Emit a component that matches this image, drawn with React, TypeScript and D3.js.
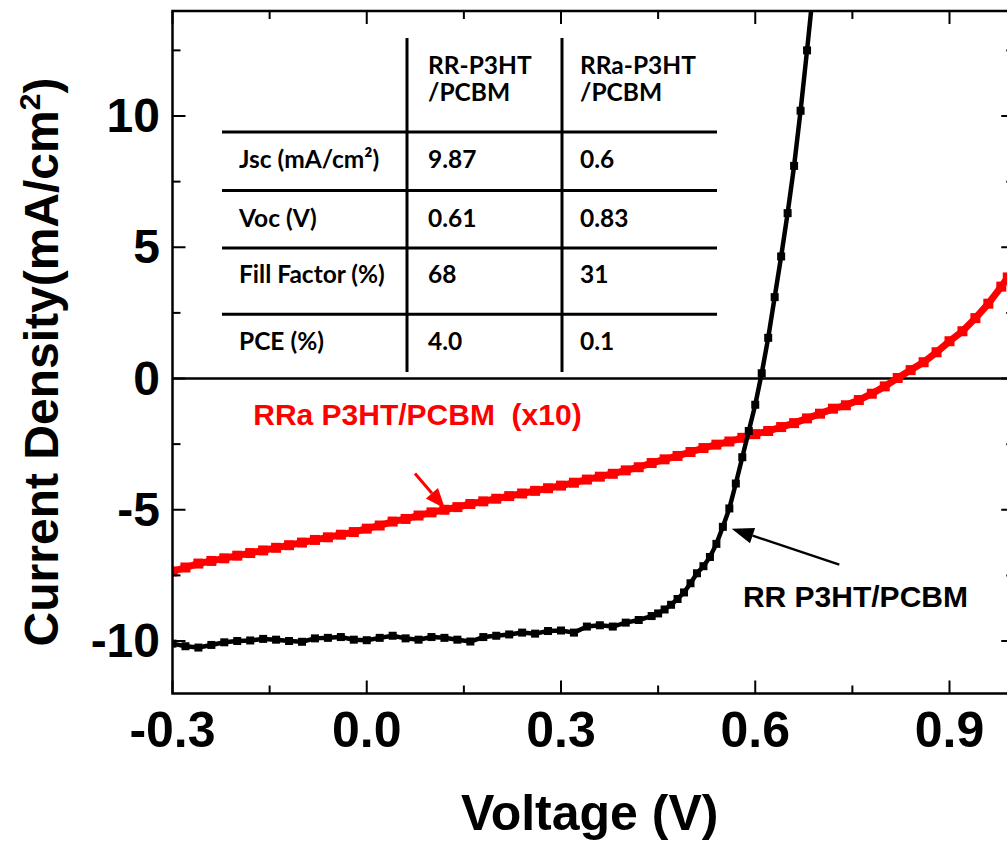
import * as d3 from "d3";

// J-V curves (RRa curve is multiplied by 10, as in the label)
const voltsRR = [
  -0.3, -0.28, -0.26, -0.24, -0.22, -0.2, -0.18, -0.16, -0.14, -0.12, -0.1, -0.08, -0.06, -0.04, -0.02,
  0.0, 0.02, 0.04, 0.06, 0.08, 0.1, 0.12, 0.14, 0.16, 0.18, 0.2, 0.22, 0.24, 0.26, 0.28, 0.3, 0.32,
  0.34, 0.36, 0.38, 0.4, 0.42, 0.44, 0.45, 0.46, 0.47, 0.48, 0.49, 0.5, 0.51, 0.52, 0.53, 0.54, 0.55,
  0.56, 0.57, 0.58, 0.59, 0.6, 0.61, 0.62, 0.63, 0.64, 0.65, 0.66, 0.67, 0.68, 0.69,
];
const currentRR = [
  -10.1, -10.2, -10.25, -10.15, -10.05, -10.0, -9.98, -9.92, -9.95, -10.0, -10.03, -9.9, -9.88, -9.85, -9.95,
  -9.97, -9.88, -9.8, -9.9, -9.95, -9.85, -9.88, -9.95, -10.02, -9.85, -9.8, -9.75, -9.68, -9.72, -9.62, -9.6, -9.68,
  -9.45, -9.4, -9.45, -9.3, -9.2, -9.05, -8.95, -8.8, -8.62, -8.4, -8.15, -7.8, -7.42, -7.15, -6.8, -6.3, -5.65,
  -4.95, -4.0, -3.0, -2.0, -1.0, 0.2, 1.55, 3.1, 4.65, 6.3, 8.1, 10.2, 12.5, 14.9,
];

const voltsRRa = [
  -0.3, -0.28, -0.26, -0.24, -0.22, -0.2, -0.18, -0.16, -0.14, -0.12, -0.1, -0.08, -0.06, -0.04, -0.02,
  0.0, 0.02, 0.04, 0.06, 0.08, 0.1, 0.12, 0.14, 0.16, 0.18, 0.2, 0.22, 0.24, 0.26, 0.28, 0.3, 0.32,
  0.34, 0.36, 0.38, 0.4, 0.42, 0.44, 0.46, 0.48, 0.5, 0.52, 0.54, 0.56, 0.58, 0.6, 0.62, 0.64, 0.66,
  0.68, 0.7, 0.72, 0.74, 0.76, 0.78, 0.8, 0.82, 0.84, 0.86, 0.88, 0.9, 0.92, 0.94, 0.96, 0.98, 0.99,
];
const currentRRa = [
  -7.35, -7.2, -7.05, -6.95, -6.85, -6.75, -6.65, -6.55, -6.45, -6.35, -6.25, -6.15, -6.05, -5.95, -5.85,
  -5.72, -5.6, -5.45, -5.35, -5.22, -5.1, -5.0, -4.9, -4.78, -4.68, -4.58, -4.48, -4.38, -4.28, -4.18, -4.08, -3.97,
  -3.85, -3.74, -3.63, -3.5, -3.38, -3.22, -3.08, -2.95, -2.8, -2.65, -2.52, -2.4, -2.26, -2.12, -2.0, -1.85, -1.7,
  -1.52, -1.34, -1.15, -1.02, -0.82, -0.58, -0.3, 0.02, 0.32, 0.62, 1.0, 1.42, 1.8, 2.3, 2.85, 3.5, 3.85,
];

const xMajor = [-0.3, 0.0, 0.3, 0.6, 0.9];
const xMinor = [-0.15, 0.15, 0.45, 0.75];
const yMajor = [-10, -5, 0, 5, 10];
const yMinor = [-7.5, -2.5, 2.5, 7.5, 12.5];

// inset table
const headRR = ["RR-P3HT", "/PCBM"];
const headRRa = ["RRa-P3HT", "/PCBM"];
const rowLabels = ["Jsc (mA/cm\u00B2)", "Voc (V)", "Fill Factor (%)", "PCE (%)"];
const valuesRR = ["9.87", "0.61", "68", "4.0"];
const valuesRRa = ["0.6", "0.83", "31", "0.1"];

const W = 1007;
const H = 844;
const arial = "'Liberation Sans', Arial, sans-serif";
const calibri = "Lato, 'Open Sans', sans-serif";

const x = d3.scaleLinear().domain([-0.3, 1.0]).range([172.5, 1014.25]);
const y = d3.scaleLinear().domain([-12, 14]).range([693.5, 11]);

function arrow(x1: number, y1: number, x2: number, y2: number, len: number, half: number) {
  const a = Math.atan2(y2 - y1, x2 - x1);
  const bx = x2 - len * Math.cos(a);
  const by = y2 - len * Math.sin(a);
  const px = -Math.sin(a) * half;
  const py = Math.cos(a) * half;
  return {
    shaft: { x1, y1, x2: bx, y2: by },
    head: `M${x2},${y2}L${bx + px},${by + py}L${bx - px},${by - py}Z`,
  };
}

const Series = ({ xs, ys, color, size, width }: any) => {
  const pts: [number, number][] = xs.map((v: number, i: number) => [x(v), y(ys[i])]);
  const line = d3.line();
  return (
    <g clipPath="url(#plotclip)">
      <path d={line(pts) || ""} fill="none" stroke={color} strokeWidth={width} strokeLinejoin="round" />
      {pts.map((p, i) => (
        <rect key={i} x={p[0] - size / 2} y={p[1] - size / 2} width={size} height={size} fill={color} />
      ))}
    </g>
  );
};

const App = () => {
  const x0 = x(-0.3), x1 = x(1.0), y0 = y(-12), y1 = y(14);
  const redArrow = arrow(x(0.0745), y(-3.62), x(0.1208), y(-4.95), 20, 8);
  const blackArrow = arrow(x(0.7298), y(-7.09), x(0.5636), y(-5.72), 22, 8);

  const hLines = [132, 190.5, 248, 314.3];
  const rowBase = [168, 227, 283, 350];

  return (
    <svg width={W} height={H} style={{ position: "absolute", left: 0, top: 0, background: "#fff" }}>
      <defs>
        <clipPath id="plotclip">
          <rect x={x0} y={y1} width={x1 - x0} height={y0 - y1} />
        </clipPath>
      </defs>

      {/* zero line */}
      <line x1={x0} x2={x1} y1={y(0)} y2={y(0)} stroke="#000" strokeWidth={2.5} />

      {/* table */}
      <g stroke="#000" strokeWidth={3}>
        {hLines.map((h, i) => (
          <line key={i} x1={222} x2={717} y1={h} y2={h} />
        ))}
        <line x1={407} x2={407} y1={38} y2={372} />
        <line x1={562} x2={562} y1={38} y2={372} />
      </g>
      <g fontFamily={calibri} fontWeight={700} fontSize={24.5} fill="#000">
        {headRR.map((t, i) => (
          <text key={"a" + i} x={428} y={74 + i * 27}>{t}</text>
        ))}
        {headRRa.map((t, i) => (
          <text key={"b" + i} x={580} y={74 + i * 27}>{t}</text>
        ))}
        {rowLabels.map((t, i) => (
          <text key={"l" + i} x={239} y={rowBase[i]}>{t}</text>
        ))}
        {valuesRR.map((t, i) => (
          <text key={"r" + i} x={428} y={rowBase[i]}>{t}</text>
        ))}
        {valuesRRa.map((t, i) => (
          <text key={"s" + i} x={580} y={rowBase[i]}>{t}</text>
        ))}
      </g>

      <Series xs={voltsRRa} ys={currentRRa} color="#ff0000" size={10} width={7} />
      <Series xs={voltsRR} ys={currentRR} color="#000" size={8} width={4.5} />

      {/* annotations */}
      <line {...redArrow.shaft} stroke="#ff0000" strokeWidth={3} />
      <path d={redArrow.head} fill="#ff0000" />
      <line {...blackArrow.shaft} stroke="#000" strokeWidth={2.5} />
      <path d={blackArrow.head} fill="#000" />
      <text x={x(-0.1753)} y={y(-1.78)} fontFamily={arial} fontWeight={700} fontSize={30} fill="#ff0000"
        style={{ whiteSpace: "pre" }}>
        {"RRa P3HT/PCBM  (x10)"}
      </text>
      <text x={x(0.581)} y={y(-8.7)} fontFamily={arial} fontWeight={700} fontSize={30} fill="#000">
        RR P3HT/PCBM
      </text>

      {/* frame and ticks */}
      <rect x={x0} y={y1} width={x1 - x0} height={y0 - y1} fill="none" stroke="#000" strokeWidth={2.5} />
      <g stroke="#000" strokeWidth={2}>
        {xMajor.map((v) => (
          <g key={"xm" + v}>
            <line x1={x(v)} x2={x(v)} y1={y0} y2={y0 - 13} />
            <line x1={x(v)} x2={x(v)} y1={y1} y2={y1 + 13} />
          </g>
        ))}
        {xMinor.map((v) => (
          <g key={"xn" + v}>
            <line x1={x(v)} x2={x(v)} y1={y0} y2={y0 - 8} />
            <line x1={x(v)} x2={x(v)} y1={y1} y2={y1 + 8} />
          </g>
        ))}
        {yMajor.map((v) => (
          <g key={"ym" + v}>
            <line x1={x0} x2={x0 + 13} y1={y(v)} y2={y(v)} />
            <line x1={x1} x2={x1 - 13} y1={y(v)} y2={y(v)} />
          </g>
        ))}
        {yMinor.map((v) => (
          <g key={"yn" + v}>
            <line x1={x0} x2={x0 + 8} y1={y(v)} y2={y(v)} />
            <line x1={x1} x2={x1 - 8} y1={y(v)} y2={y(v)} />
          </g>
        ))}
      </g>

      <g fontFamily={arial} fontWeight={700} fill="#000">
        {xMajor.map((v) => (
          <text key={"xl" + v} x={x(v)} y={747} textAnchor="middle" fontSize={50}>
            {v.toFixed(1)}
          </text>
        ))}
        {yMajor.map((v) => (
          <text key={"yl" + v} x={160} y={y(v) + 16} textAnchor="end" fontSize={48}>
            {String(v)}
          </text>
        ))}
        <text x={(x0 + Math.min(x1, W)) / 2} y={830} textAnchor="middle" fontSize={50}>
          Voltage (V)
        </text>
        <text transform="translate(58,362) rotate(-90)" textAnchor="middle" fontSize={48}>
          Current Density(mA/cm
          <tspan fontSize={30} dy={-18}>2</tspan>
          <tspan dy={18}>)</tspan>
        </text>
      </g>
    </svg>
  );
};

export default App;
